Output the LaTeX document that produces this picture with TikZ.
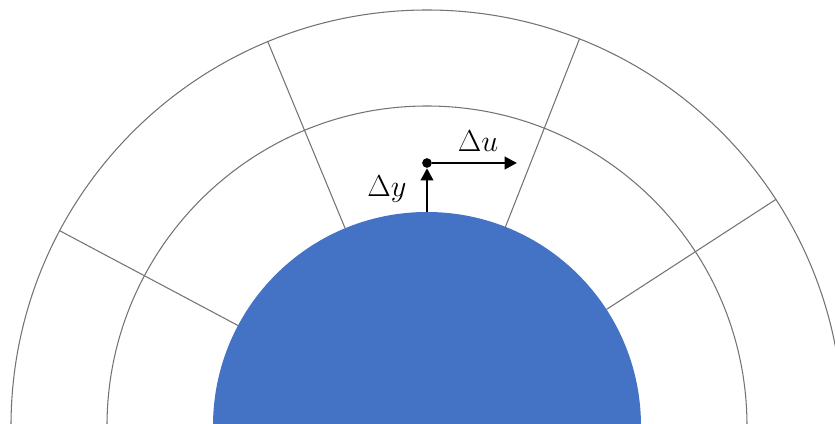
\documentclass[tikz,border=0pt]{standalone}
\usepackage{tikz}
\usetikzlibrary{arrows.meta,positioning}
\definecolor{diskblue}{HTML}{4472C4}

\begin{document}
\begin{tikzpicture}[x=0.02cm, y=0.02cm,
  every node/.style={font=\fontsize{17}{19}\selectfont},
  cell/.style={draw=black!55, line width=0.6pt},
  vec/.style={-{Triangle[length=7pt,width=7pt]}, line width=1.6pt}]
  \useasboundingbox (-427,3) rectangle (408,426);
  \clip (-427,3) rectangle (408,426);
  \coordinate (o) at (0,0);

  % grid around the disk
  \draw[cell] (o) circle (416);
  \draw[cell] (o) circle (320);
  \foreach \a in {33,68.5,112.5,152}
    \draw[cell] (\a:214) -- (\a:416);
  \fill[diskblue] (o) circle (214);

  % local axes on the wall
  \node[circle,fill,inner sep=0pt,minimum size=5.5pt] (d) at (0,263) {};
  \coordinate (b) at (0,214);
  \coordinate (t) at (90,263);
  \draw[vec] (b) -- (d);
  \draw[vec] (d) -- (t);
  \node (du) at (51,285) {$\Delta u$};
  \node (dy) at (-40,237) {$\Delta y$};
\end{tikzpicture}
\end{document}
